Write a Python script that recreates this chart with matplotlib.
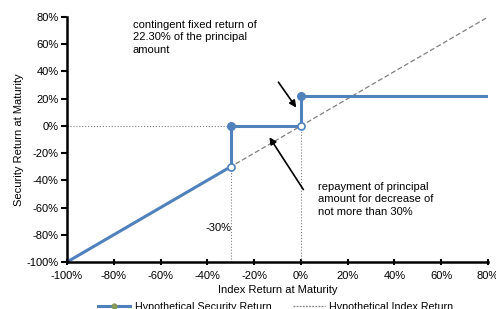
import numpy as np
import matplotlib
matplotlib.use("Agg")
import matplotlib.pyplot as plt
from matplotlib.lines import Line2D

plt.rcParams['font.family'] = ['Liberation Sans', 'DejaVu Sans']
plt.rcParams['font.size'] = 8

# ------------------------------------------------------------------------------
# data
index_x      = [-100, 80]
index_y      = [-100, 80]
down_x       = [-100, -30]
down_y       = [-100, -30]
flat_x       = [-30, -30, 0]
flat_y       = [-28, 0, 0]
up_x         = [0, 0, 80]
up_y         = [2, 22.3, 22.3]
open_pts_x   = [-30, 0]
open_pts_y   = [-30, 0]
fill_pts_x   = [-30, 0]
fill_pts_y   = [0, 22.3]
ticks        = [-100, -80, -60, -40, -20, 0, 20, 40, 60, 80]

blue = '#4f81bd'
gray = '#808080'

fig = plt.figure(figsize=(4.96, 3.09), dpi=100)
ax = fig.add_axes([0.135, 0.152, 0.849, 0.793])

# guide lines
ax.plot([-100, -30], [0, 0], ls=':', color=gray, lw=0.8)
ax.plot([-30, -30], [-100, -30], ls=':', color=gray, lw=0.8)
ax.plot([0, 0], [-100, 0], ls=':', color=gray, lw=0.8)

# index return
ax.plot(index_x, index_y, ls='--', color=gray, lw=0.9, dashes=(4, 2))

# security return
ax.plot(down_x, down_y, color=blue, lw=2.2, solid_capstyle='butt')
ax.plot(flat_x, flat_y, color=blue, lw=2.2)
ax.plot(up_x, up_y, color=blue, lw=2.2)
ax.scatter(fill_pts_x, fill_pts_y, s=30, color=blue, zorder=5)
ax.scatter(open_pts_x, open_pts_y, s=26, facecolor='white', edgecolor=blue, lw=1.2, zorder=5)

# annotations
ax.annotate('', xy=(-1.3, 11.8), xytext=(-10.3, 33.8),
            arrowprops=dict(arrowstyle='-|>', color='black', lw=1.2, mutation_scale=10))
ax.annotate('', xy=(-14.1, -6.6), xytext=(1.7, -48.5),
            arrowprops=dict(arrowstyle='-|>', color='black', lw=1.2, mutation_scale=10))
ax.text(-71.8, 78, 'contingent fixed return of\n22.30% of the principal\namount',
        va='top', ha='left', linespacing=1.3)
ax.text(7.3, -41, 'repayment of principal\namount for decrease of\nnot more than 30%',
        va='top', ha='left', linespacing=1.3)
ax.text(-35.3, -75, '-30%', ha='center', va='center')

ax.set_xlim(-100, 80)
ax.set_ylim(-100, 80)
ax.set_xticks(ticks)
ax.set_yticks(ticks)
ax.set_xticklabels([f'{t}%' for t in ticks])
ax.set_yticklabels([f'{t}%' for t in ticks])
ax.spines['top'].set_visible(False)
ax.spines['right'].set_visible(False)
ax.spines['left'].set_linewidth(1.8)
ax.spines['bottom'].set_linewidth(1.8)
ax.tick_params(axis='y', direction='out', length=4, width=1.5, pad=2)
ax.tick_params(axis='x', direction='inout', length=5, width=1.5, pad=4)
ax.set_xlabel('Index Return at Maturity', labelpad=3)
ax.set_ylabel('Security Return at Maturity', labelpad=2)

handles = [
    Line2D([], [], color=blue, lw=2.2, marker='o', markersize=3.5,
           markerfacecolor='#8a9a5b', markeredgecolor='#8a9a5b'),
    Line2D([], [], color=gray, lw=0.9, ls='--', dashes=(1.5, 1)),
]
fig.legend(handles, ['Hypothetical Security Return', 'Hypothetical Index Return'],
           loc='center', bbox_to_anchor=(0.556, 0.008), ncol=2, frameon=False,
           handlelength=3.0, handletextpad=0.4, columnspacing=2.0, fontsize=7.7)

fig.savefig('out.png', dpi=100)
